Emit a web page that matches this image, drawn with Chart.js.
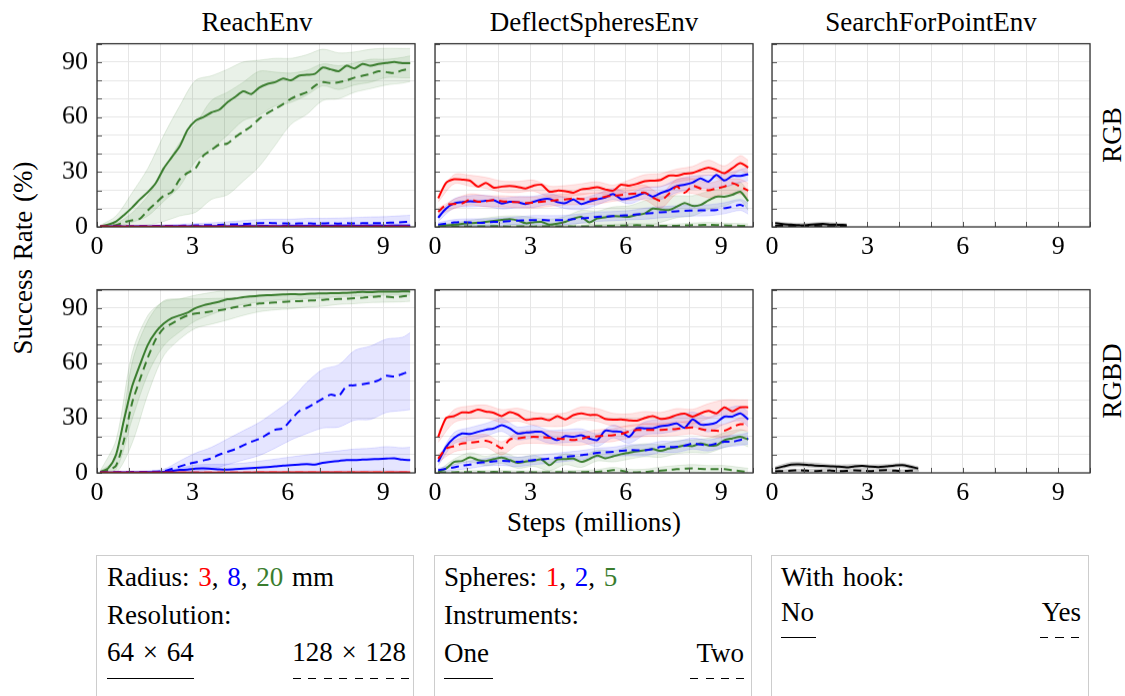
<!DOCTYPE html>
<html>
<head>
<meta charset="utf-8">
<script src="https://cdn.jsdelivr.net/npm/chart.js@4.4.1/dist/chart.umd.min.js"></script>
<style>
  html, body { margin: 0; padding: 0; background: #fff; }
  body { width: 1125px; height: 696px; overflow: hidden; position: relative;
         font-family: 'Liberation Serif', 'Times New Roman', Tinos, 'DejaVu Serif', 'Noto Serif', serif; color: #000; }
  canvas { position: absolute; }
  .lbl { position: absolute; font-size: 27px; line-height: 30px; white-space: nowrap; word-spacing: 2px; }
  .ctr { transform: translate(-50%, -50%); }
  .rot { transform: translate(-50%, -50%) rotate(-90deg); }
  .box { position: absolute; top: 555px; width: 316px; height: 160px; border: 1.5px solid #cdcdcd; }
  .solid { position: absolute; height: 1.3px; background: #000; }
  .dash { position: absolute; height: 1.3px;
          background: repeating-linear-gradient(to right, #000 0 8px, transparent 8px 15.5px); }
</style>
</head>
<body>

<div class="lbl ctr" style="left:257px;top:22px">ReachEnv</div>
<div class="lbl ctr" style="left:594px;top:22px">DeflectSpheresEnv</div>
<div class="lbl ctr" style="left:931px;top:22px">SearchForPointEnv</div>
<div class="lbl rot" style="left:1112px;top:135px">RGB</div>
<div class="lbl rot" style="left:1112px;top:381px">RGBD</div>
<div class="lbl rot" style="left:23px;top:258px">Success Rate (%)</div>
<div class="lbl ctr" style="left:594px;top:522px">Steps (millions)</div>

<div class="box" style="left:96px"></div>
<div class="box" style="left:434px"></div>
<div class="box" style="left:771px"></div>

<div class="lbl" style="left:107px;top:562px">Radius: <span style="color:#ff0000">3</span>, <span style="color:#0000ff">8</span>, <span style="color:#3a7d2e">20</span> mm</div>
<div class="lbl" style="left:107px;top:600px">Resolution:</div>
<div class="lbl" style="left:107px;top:637px">64 × 64</div>
<div class="lbl" style="right:719px;top:637px">128 × 128</div>
<div class="solid" style="left:107px;top:678px;width:87px"></div>
<div class="dash" style="left:293px;top:678px;width:118px"></div>

<div class="lbl" style="left:444px;top:562px">Spheres: <span style="color:#ff0000">1</span>, <span style="color:#0000ff">2</span>, <span style="color:#3a7d2e">5</span></div>
<div class="lbl" style="left:444px;top:600px">Instruments:</div>
<div class="lbl" style="left:444px;top:638px">One</div>
<div class="lbl" style="right:381px;top:638px">Two</div>
<div class="solid" style="left:444px;top:678px;width:49px"></div>
<div class="dash" style="left:690px;top:678px;width:56px"></div>

<div class="lbl" style="left:781px;top:562px">With hook:</div>
<div class="lbl" style="left:781px;top:597px">No</div>
<div class="lbl" style="right:44px;top:597px">Yes</div>
<div class="solid" style="left:781px;top:637px;width:35px"></div>
<div class="dash" style="left:1040px;top:637px;width:42px"></div>

<canvas id="c1"></canvas><canvas id="c2"></canvas><canvas id="c3"></canvas>
<canvas id="c4"></canvas><canvas id="c5"></canvas><canvas id="c6"></canvas>

<script>
// x positions (millions of steps) shared by every curve
const STEPS = [0.1,0.35,0.6,0.85,1.1,1.35,1.6,1.85,2.1,2.35,
  2.6,2.85,3.1,3.35,3.6,3.85,4.1,4.35,4.6,4.85,
  5.1,5.35,5.6,5.85,6.1,6.35,6.6,6.85,7.1,7.35,
  7.6,7.85,8.1,8.35,8.6,8.85,9.1,9.35,9.6,9.85];
const X_TICKS = [0, 3, 6, 9];
const Y_TICKS = [0, 30, 60, 90];

// ReachEnv / RGB  (solid = 64x64, dashed = 128x128)
const REACH_RGB_G_SOLID = [0.3,1.2,3,6.5,10.5,15,19,24,32,38,44,53,58,60,62.5,64,68,71,74,72.5,76,78,79,81,80,82.5,83,83.5,87,86,85,88,86.5,89,88,89,89.5,90,89.4,89.4];
const REACH_RGB_G_DASH = [0.2,0.5,1,2.5,3.6,4.5,9,13,17,19,26,29.5,32,39,42,45,45.5,49,52,55,59,62,64.5,67,70,72,73.5,77,79,78.5,79,80,81.5,82.5,83.5,85,84.5,84,85.5,86.4];
const REACH_RGB_B_SOLID = [0.2,0.2,0.3,0.2,0.3,0.3,0.2,0.3,0.3,0.4,0.3,0.3,0.4,0.3,0.4,0.4,0.3,0.4,0.5,0.4,0.5,0.5,0.4,0.5,0.6,0.5,0.5,0.6,0.6,0.5,0.6,0.7,0.6,0.6,0.7,0.7,0.6,0.7,0.7,0.7];
const REACH_RGB_B_DASH = [0.2,0.2,0.3,0.3,0.3,0.4,0.4,0.5,0.5,0.6,0.6,0.7,0.8,0.9,1.0,1.1,1.3,1.4,1.6,1.8,2.0,2.2,2.0,1.9,1.8,1.9,2.0,1.8,1.9,2.0,1.8,2.0,1.9,2.0,2.1,2.0,2.2,2.4,2.6,2.8];
const REACH_RGB_R_SOLID = [0.1,0.1,0.1,0.1,0.1,0.1,0.1,0.1,0.1,0.1,0.1,0.1,0.1,0.1,0.1,0.1,0.1,0.1,0.1,0.1,0.1,0.1,0.1,0.1,0.1,0.1,0.1,0.1,0.1,0.1,0.1,0.1,0.1,0.1,0.1,0.1,0.1,0.1,0.1,0.1];
const REACH_RGB_R_DASH = [0.1,0.1,0.1,0.1,0.1,0.1,0.1,0.1,0.1,0.1,0.1,0.1,0.1,0.1,0.1,0.1,0.1,0.1,0.1,0.1,0.2,0.2,0.2,0.2,0.2,0.2,0.2,0.2,0.2,0.2,0.2,0.2,0.2,0.2,0.2,0.2,0.2,0.2,0.2,0.2];
// spread (band half-width) at every second step + last
const REACH_RGB_G_SOLID_SD = [0.5,3,8,13,18,22,22,20,18,16,15,13,12,11,10,10,9,9,8,8,8];
const REACH_RGB_G_DASH_SD = [0.5,1,4,8,14,20,24,27,28,27,26,20,14,12,10,9,8,8,7,7,7];
const REACH_RGB_B_SOLID_SD = [0.2,0.2,0.3,0.3,0.4,0.4,0.5,0.5,0.5,0.6,0.6,0.6,0.7,0.7,0.7,0.8,0.8,0.8,0.8,0.8,0.8];
const REACH_RGB_B_DASH_SD = [0.2,0.3,0.4,0.5,0.6,0.8,1,1.2,1.5,1.8,2,2.2,2.4,2.6,2.8,3,3.2,3.3,3.4,3.5,3.5];
const REACH_RGB_R_SD = [0.1,0.1,0.1,0.1,0.1,0.1,0.1,0.1,0.1,0.1,0.1,0.1,0.1,0.1,0.1,0.1,0.1,0.1,0.1,0.1,0.1];

// DeflectSpheresEnv / RGB  (solid = one instrument, dashed = two)
const DEFLECT_RGB_R_SOLID = [15.6,24,26,25.8,25.2,22,24,21.4,22,22.3,21.8,21,22.5,23,19.2,19.8,19.5,18.7,20.5,21,21.6,20.5,19.8,23,22.5,23.5,25,25.2,25.6,28,28,29,29.5,31,32.4,31,29.3,32,34.8,32.4];
const DEFLECT_RGB_R_DASH = [8.2,12,12.5,12.8,15,13.7,14,14.6,14,13.7,13.5,13,13.3,13.7,14.2,14.6,15,15.6,15.2,15,15.5,16.5,17,17.4,18,18.2,18.7,16,14.3,18,22,18.7,22.3,21,20,21,22,23.8,22,19.8];
const DEFLECT_RGB_B_SOLID = [5,10,12.8,13.5,14,13.8,14.2,14.5,12.8,13.7,13.5,12.5,13.7,15,15.2,13.5,13,15,12.5,13.8,15,16,18,15.2,15.6,17,18.5,16.5,18.5,20,22.3,23,24.2,26.5,24.7,28.4,25.3,27.8,27.8,28.8];
const DEFLECT_RGB_B_DASH = [1.3,1.8,2.5,2.7,2.4,2.2,2.4,2.7,2.9,3.2,3.4,3.6,3.7,3.8,3.6,3.7,3.8,4.2,4.6,5.0,5.5,5.6,5.9,6.2,6.4,6.8,7.2,7.6,8.0,8.2,8.5,8.8,8.9,9.0,9.1,9.2,10.2,11,12,10];
const DEFLECT_RGB_G_SOLID = [0.4,0.8,1.2,1.7,2,2.3,2.8,3.3,3.8,4.2,3.5,2,2.5,2.7,1.2,1.8,2.7,4.5,5.5,2.5,4.6,5.2,5.9,5.7,5.5,6.5,7.3,10,9.5,9.2,11,13,11.5,12,14.5,16.5,16.5,17.5,19.2,14];
const DEFLECT_RGB_G_DASH = [0.2,0.2,0.3,0.3,0.2,0.3,0.3,0.4,0.3,0.2,0.3,0.3,0.2,0.3,0.4,0.3,0.3,0.2,0.3,0.3,0.4,0.5,0.6,0.7,0.8,0.9,0.7,0.6,0.5,0.5,0.6,0.8,0.9,1.0,1.2,1.0,0.8,0.7,0.6,0.5];
const DEFLECT_RGB_R_SOLID_SD = [2,2.5,3,3,3,3,3,3,3,3,3,3,3,3.5,3.5,3.5,3.5,4,4,4,4];
const DEFLECT_RGB_R_DASH_SD = [2,2.5,3,3,3,3,3,3,3,3,3,3,3.5,4,4,4,4,4,4,4,4];
const DEFLECT_RGB_B_SOLID_SD = [2,2.5,3,3,3,3,3,3,3,3,3,3,3,3,3.5,3.5,3.5,3.5,3.5,3.5,3.5];
const DEFLECT_RGB_B_DASH_SD = [1,1.5,2,2,2,2,2.5,2.5,2.5,2.5,2.5,2.5,2.5,3,3,3,3,3,3,3,3];
const DEFLECT_RGB_G_SOLID_SD = [0.5,1,1.5,2,2,2.5,2.5,3,3,3.5,4,5,6,7,7,6,5.5,5,5,5,5];
const DEFLECT_RGB_G_DASH_SD = [0.3,0.4,0.5,0.5,0.5,0.5,0.5,0.5,0.6,0.6,0.8,0.8,1,1,1,1,1.2,1.2,1.2,1.2,1.2];

// SearchForPointEnv / RGB  (solid = no hook, dashed = hook)
const SEARCH_RGB_SOLID = [2,1.5,1.2,0.9,1.0,1.4,1.6,1.3,1.1,1.0];
const SEARCH_RGB_DASH = [0.6,0.5,0.4,0.3,0.4,0.5,0.4,0.3,0.3,0.3];
const SEARCH_RGB_SOLID_SD = [0.8,0.9,1,1,0.9,0.9];
const SEARCH_RGB_DASH_SD = [0.4,0.5,0.5,0.5,0.4,0.4];

// ReachEnv / RGBD
const REACH_RGBD_G_SOLID = [0.5,2.5,10,29,47,59,70,77,81.5,84.5,86,87.5,90,91.5,92.5,93.5,94.8,95.2,96,96.4,96.7,97,97.2,97.4,97.6,97.5,97.7,97.9,98,98.1,98.2,98.3,98.5,98.8,98.7,98.9,99,98.9,99.1,99];
const REACH_RGBD_G_DASH = [0.5,1.5,4,18,38,51,63,73,79,81.5,84,86,87,87.5,88.2,88.8,89.5,90.5,91,91.8,92.5,92.8,93,93.3,93.6,93.8,94,94.2,94.5,94.8,95,95.1,95.4,95.6,96,96.4,96.2,95.8,96.4,96.7];
const REACH_RGBD_B_SOLID = [0.2,0.2,0.2,0.3,0.3,0.3,0.4,0.4,0.5,1,1.6,1.8,2.3,2.4,2.2,1.9,1.8,2.0,2.3,2.6,2.9,3.1,3.5,4.0,4.2,4.5,4.8,4.5,5.5,6,6.5,7,7,7.2,7.4,7.6,7.8,8,7.2,7];
const REACH_RGBD_B_DASH = [0.3,0.3,0.4,0.4,0.5,0.5,0.6,0.7,1,2.2,3.5,4.8,5.8,6.8,8,10,11.5,13,15,17,18.5,21,23.5,24.4,29,33.6,35.5,38,40.5,42.7,42,47.4,47.8,48.4,49.2,50.5,53,52.6,54,55.6];
const REACH_RGBD_R_SOLID = [0.2,0.2,0.2,0.2,0.2,0.2,0.2,0.2,0.2,0.2,0.2,0.2,0.2,0.2,0.2,0.2,0.2,0.2,0.2,0.2,0.3,0.3,0.3,0.3,0.3,0.3,0.3,0.3,0.3,0.3,0.3,0.3,0.3,0.3,0.3,0.3,0.3,0.3,0.3,0.3];
const REACH_RGBD_R_DASH = [0.1,0.1,0.1,0.1,0.1,0.1,0.1,0.1,0.1,0.1,0.1,0.1,0.1,0.1,0.1,0.1,0.1,0.1,0.1,0.1,0.1,0.1,0.1,0.1,0.1,0.1,0.1,0.1,0.1,0.1,0.1,0.1,0.1,0.1,0.1,0.1,0.1,0.1,0.1,0.1];
const REACH_RGBD_G_SOLID_SD = [0.5,8,18,16,12,9,7,6,5,4,3.5,3,3,2.5,2.5,2,2,2,2,2,2];
const REACH_RGBD_G_DASH_SD = [0.5,4,22,20,15,11,8,7,6,5,4.5,4,4,3.5,3.5,3,3,3,3,3,3];
const REACH_RGBD_B_SOLID_SD = [0.2,0.2,0.3,0.3,0.5,1,2,2.5,3,3,3.5,4,4.5,5,5.5,5.5,6,6,6.5,6.5,7];
const REACH_RGBD_B_DASH_SD = [0.3,0.3,0.4,0.5,1,3,5,6,7,8,9,10,11,14,16,17,19,20,20,20,21];
const REACH_RGBD_R_SD = [0.1,0.1,0.1,0.1,0.1,0.1,0.1,0.1,0.1,0.1,0.1,0.1,0.1,0.1,0.1,0.1,0.1,0.1,0.1,0.1,0.1];

// DeflectSpheresEnv / RGBD
const DEFLECT_RGBD_R_SOLID = [19.7,30,31,33,33,34.5,33.5,32.8,31,33.2,31.8,29,29.5,29.7,28.8,31,29.2,31.5,32.5,31.6,31.6,29.5,29,29.2,28.7,28.5,30,31,29.5,30,31.6,32.3,30.7,32.5,33.8,32.5,35.8,33.6,35.8,35.8];
const DEFLECT_RGBD_R_DASH = [7.8,13.3,14.5,16,16.5,17,17.5,16,13.5,18.2,18.8,19.5,19.7,19.5,19.2,18.8,18.5,17.9,18.7,19.7,20,20.3,20.6,21.2,22.5,23.4,23.4,23.4,23.5,23.7,24,24.5,24.8,24,23.2,23,23,25,26.6,26.4];
const DEFLECT_RGBD_B_SOLID = [6,14.2,19,21.5,21.2,22.4,23.5,24.3,26.1,24.3,21.5,22,22.4,22.4,19.7,17.9,20.1,19.7,20.5,18.8,17.9,23,22.6,22.4,19.7,24.3,24.3,24.3,25.5,26,27,24.6,29.2,26.4,26.4,27.5,30.7,30.7,32.5,29.2];
const DEFLECT_RGBD_B_DASH = [1.5,2.2,3,4,4.5,5.5,5.8,6.3,6.6,6.3,6,6.5,7,7.4,7.8,8.2,8.8,9.2,9.7,10.2,11,11.2,11.5,12,12.4,12.4,12.4,13,14.2,14.2,14.2,14.8,16,15.5,15,16,17,17,18,18.8];
const DEFLECT_RGBD_G_SOLID = [0.5,2.4,6,6.5,8.5,7,6.5,7.5,8.3,7,5.5,6.2,6.6,7.3,4.2,7.3,7.5,7.8,6,7.5,9.5,8,9,10.2,11,11.8,12.4,13,12,13.3,14,15,14.6,16,15,15,17.9,18.8,19.7,18.2];
const DEFLECT_RGBD_G_DASH = [0.2,0.3,0.3,0.4,0.4,0.5,0.4,0.5,0.4,0.3,0.3,0.4,0.3,0.3,0.3,0.4,0.4,0.3,0.4,0.5,0.6,0.9,1.5,1.2,0.4,0.3,0.5,0.9,1.2,1.6,2.0,2.3,2.5,2.2,2.0,2.0,2.0,1.5,1.0,0.5];
const DEFLECT_RGBD_R_SOLID_SD = [3,3.5,3.5,3.5,3.5,3.5,3.5,3.5,3.5,3.5,3.5,3.5,3.5,3.5,3.5,3.5,4,4,4,4,4];
const DEFLECT_RGBD_R_DASH_SD = [2,3,3.5,3.5,3.5,3.5,3.5,3.5,3.5,3.5,3.5,3.5,3.5,3.5,3.5,3.5,3.5,3.5,3.5,3.5,3.5];
const DEFLECT_RGBD_B_SOLID_SD = [2,3,3.5,3.5,3.5,3.5,3.5,3.5,3.5,3.5,3.5,3.5,3.5,3.5,4,4,4,4,4,4,4];
const DEFLECT_RGBD_B_DASH_SD = [1,1.5,2,2,2.5,2.5,2.5,2.5,2.5,2.5,2.5,2.5,3,3,3,3,3,3,3,3,3];
const DEFLECT_RGBD_G_SOLID_SD = [0.5,1.5,2.5,2.5,3,3,3,3,3,3,3,3,3.5,3.5,3.5,3.5,3.5,4,4,4,4];
const DEFLECT_RGBD_G_DASH_SD = [0.3,0.5,0.8,0.8,0.8,0.8,0.8,0.8,0.8,1,1.2,1.5,1.5,1.5,2,2,2,2,2,2,2];

// SearchForPointEnv / RGBD
const SEARCH_RGBD_SOLID = [2.4,3.5,4.5,4.6,4.4,4.0,3.8,3.6,3.4,3.0,3.6,3.8,3.4,3.2,3.6,4.0,4.2,3.4,2.4];
const SEARCH_RGBD_DASH = [0.8,1.0,1.2,1.4,1.2,1.0,1.2,1.3,1.0,1.1,1.4,1.2,1.0,1.3,1.5,1.2,1.0,1.2,1.3];
const SEARCH_RGBD_SOLID_SD = [1,1.2,1.2,1.2,1,1,1,1,1,1];
const SEARCH_RGBD_DASH_SD = [0.6,0.7,0.7,0.7,0.7,0.7,0.7,0.7,0.7,0.7];

const RED = '#ff0000', BLUE = '#0000ff', GREEN = '#3a7d2e', BLACK = '#000000';
const BAND = {
  [RED]: 'rgba(255,0,0,0.10)', [BLUE]: 'rgba(0,0,255,0.10)',
  [GREEN]: 'rgba(58,125,46,0.11)', [BLACK]: 'rgba(0,0,0,0.16)'
};
const EDGE = {
  [RED]: 'rgba(255,0,0,0.22)', [BLUE]: 'rgba(0,0,255,0.22)',
  [GREEN]: 'rgba(58,125,46,0.22)', [BLACK]: 'rgba(0,0,0,0.2)'
};
const FONT = { family: "'Liberation Serif', 'Times New Roman', Tinos, 'DejaVu Serif', 'Noto Serif', serif", size: 26 };

// geometry of the six plot areas
const COL_LEFT = [97, 435, 772];
const ROW_TOP = [44, 290];
const PLOT_W = 318, PLOT_H = 183;
const AXIS_W = 50, AXIS_H = 36;

// band points sit on every second step plus the last one
function bandIndices(n) {
  const idx = [];
  for (let i = 0; i < n; i += 2) idx.push(i);
  if (idx[idx.length - 1] !== n - 1) idx.push(n - 1);
  return idx;
}

function buildDatasets(series) {
  const bands = [];
  const lines = [];
  series.forEach((s) => {
    const idx = bandIndices(s.values.length);
    const hi = idx.map((i, j) => ({ x: STEPS[i], y: s.values[i] + s.spread[j] }));
    const lo = idx.map((i, j) => ({ x: STEPS[i], y: s.values[i] - s.spread[j] }));
    bands.push({ data: hi, fill: '+1', backgroundColor: BAND[s.color], borderColor: EDGE[s.color],
      borderWidth: 0.6, pointRadius: 0, tension: 0.3, order: 2 });
    bands.push({ data: lo, fill: false, borderColor: EDGE[s.color],
      borderWidth: 0.6, pointRadius: 0, tension: 0.3, order: 2 });
    lines.push({ data: s.values.map((v, i) => ({ x: STEPS[i], y: v })), fill: false,
      borderColor: s.color, borderWidth: 2, borderDash: s.dashed ? [8, 5] : [],
      pointRadius: 0, tension: 0.25, order: 1 });
  });
  return bands.concat(lines);
}

// frame and inward tick marks, pgfplots style
const framePlugin = {
  id: 'frame',
  afterDraw(chart) {
    const { ctx, chartArea: a, scales: { x, y } } = chart;
    ctx.save();
    ctx.strokeStyle = '#555';
    ctx.lineWidth = 1;
    ctx.beginPath();
    y.ticks.forEach((t) => {
      const py = Math.round(y.getPixelForValue(t.value)) + 0.5;
      ctx.moveTo(a.left, py); ctx.lineTo(a.left + 5, py);
    });
    x.ticks.forEach((t) => {
      const px = Math.round(x.getPixelForValue(t.value)) + 0.5;
      ctx.moveTo(px, a.bottom); ctx.lineTo(px, a.bottom - 5);
    });
    ctx.stroke();
    ctx.strokeStyle = '#333';
    ctx.lineWidth = 1.3;
    ctx.strokeRect(a.left, a.top, a.right - a.left, a.bottom - a.top);
    ctx.restore();
  }
};

function chartConfig(series, showY) {
  return {
    type: 'line',
    data: { datasets: buildDatasets(series) },
    plugins: [framePlugin],
    options: {
      responsive: false,
      maintainAspectRatio: false,
      animation: false,
      events: [],
      layout: { padding: { top: 4, right: 10, left: 0, bottom: 0 } },
      plugins: { legend: { display: false }, tooltip: { enabled: false } },
      scales: {
        x: {
          type: 'linear', min: 0, max: 10,
          afterFit: (s) => { s.height = AXIS_H; },
          border: { display: false },
          grid: { color: '#e6e6e6', lineWidth: 1, drawTicks: false },
          ticks: { stepSize: 1, padding: 5, color: '#000', font: FONT, maxRotation: 0,
            autoSkip: false,
            callback: (v) => (X_TICKS.includes(v) ? String(v) : '') }
        },
        y: {
          type: 'linear', min: 0, max: 100,
          afterFit: (s) => { s.width = AXIS_W; },
          border: { display: false },
          grid: { color: '#e6e6e6', lineWidth: 1, drawTicks: false },
          ticks: { stepSize: 10, padding: 9, color: '#000', font: FONT, autoSkip: false,
            callback: (v) => (showY && Y_TICKS.includes(v) ? String(v) : '') }
        }
      }
    }
  };
}

// draw once, measure the plot area, then redraw at the size that
// gives the wanted plot area and move the canvas onto it
function makePanel(id, col, row, series) {
  const canvas = document.getElementById(id);
  const showY = col === 0;
  let w = PLOT_W + AXIS_W + 10, h = PLOT_H + AXIS_H + 30;
  canvas.width = w; canvas.height = h;
  let chart = new Chart(canvas.getContext('2d'), chartConfig(series, showY));
  let a = chart.chartArea;
  w += PLOT_W - (a.right - a.left);
  h += PLOT_H - (a.bottom - a.top);
  chart.destroy();
  canvas.width = w; canvas.height = h;
  canvas.style.width = w + 'px'; canvas.style.height = h + 'px';
  chart = new Chart(canvas.getContext('2d'), chartConfig(series, showY));
  a = chart.chartArea;
  canvas.style.left = (COL_LEFT[col] - a.left) + 'px';
  canvas.style.top = (ROW_TOP[row] - a.top) + 'px';
}

makePanel('c1', 0, 0, [
  { values: REACH_RGB_R_SOLID, spread: REACH_RGB_R_SD, color: RED, dashed: false },
  { values: REACH_RGB_R_DASH, spread: REACH_RGB_R_SD, color: RED, dashed: true },
  { values: REACH_RGB_B_SOLID, spread: REACH_RGB_B_SOLID_SD, color: BLUE, dashed: false },
  { values: REACH_RGB_B_DASH, spread: REACH_RGB_B_DASH_SD, color: BLUE, dashed: true },
  { values: REACH_RGB_G_SOLID, spread: REACH_RGB_G_SOLID_SD, color: GREEN, dashed: false },
  { values: REACH_RGB_G_DASH, spread: REACH_RGB_G_DASH_SD, color: GREEN, dashed: true }
]);
makePanel('c2', 1, 0, [
  { values: DEFLECT_RGB_R_SOLID, spread: DEFLECT_RGB_R_SOLID_SD, color: RED, dashed: false },
  { values: DEFLECT_RGB_R_DASH, spread: DEFLECT_RGB_R_DASH_SD, color: RED, dashed: true },
  { values: DEFLECT_RGB_B_SOLID, spread: DEFLECT_RGB_B_SOLID_SD, color: BLUE, dashed: false },
  { values: DEFLECT_RGB_B_DASH, spread: DEFLECT_RGB_B_DASH_SD, color: BLUE, dashed: true },
  { values: DEFLECT_RGB_G_SOLID, spread: DEFLECT_RGB_G_SOLID_SD, color: GREEN, dashed: false },
  { values: DEFLECT_RGB_G_DASH, spread: DEFLECT_RGB_G_DASH_SD, color: GREEN, dashed: true }
]);
makePanel('c3', 2, 0, [
  { values: SEARCH_RGB_SOLID, spread: SEARCH_RGB_SOLID_SD, color: BLACK, dashed: false },
  { values: SEARCH_RGB_DASH, spread: SEARCH_RGB_DASH_SD, color: BLACK, dashed: true }
]);
makePanel('c4', 0, 1, [
  { values: REACH_RGBD_R_SOLID, spread: REACH_RGBD_R_SD, color: RED, dashed: false },
  { values: REACH_RGBD_R_DASH, spread: REACH_RGBD_R_SD, color: RED, dashed: true },
  { values: REACH_RGBD_B_SOLID, spread: REACH_RGBD_B_SOLID_SD, color: BLUE, dashed: false },
  { values: REACH_RGBD_B_DASH, spread: REACH_RGBD_B_DASH_SD, color: BLUE, dashed: true },
  { values: REACH_RGBD_G_SOLID, spread: REACH_RGBD_G_SOLID_SD, color: GREEN, dashed: false },
  { values: REACH_RGBD_G_DASH, spread: REACH_RGBD_G_DASH_SD, color: GREEN, dashed: true }
]);
makePanel('c5', 1, 1, [
  { values: DEFLECT_RGBD_R_SOLID, spread: DEFLECT_RGBD_R_SOLID_SD, color: RED, dashed: false },
  { values: DEFLECT_RGBD_R_DASH, spread: DEFLECT_RGBD_R_DASH_SD, color: RED, dashed: true },
  { values: DEFLECT_RGBD_B_SOLID, spread: DEFLECT_RGBD_B_SOLID_SD, color: BLUE, dashed: false },
  { values: DEFLECT_RGBD_B_DASH, spread: DEFLECT_RGBD_B_DASH_SD, color: BLUE, dashed: true },
  { values: DEFLECT_RGBD_G_SOLID, spread: DEFLECT_RGBD_G_SOLID_SD, color: GREEN, dashed: false },
  { values: DEFLECT_RGBD_G_DASH, spread: DEFLECT_RGBD_G_DASH_SD, color: GREEN, dashed: true }
]);
makePanel('c6', 2, 1, [
  { values: SEARCH_RGBD_SOLID, spread: SEARCH_RGBD_SOLID_SD, color: BLACK, dashed: false },
  { values: SEARCH_RGBD_DASH, spread: SEARCH_RGBD_DASH_SD, color: BLACK, dashed: true }
]);
</script>
</body>
</html>
